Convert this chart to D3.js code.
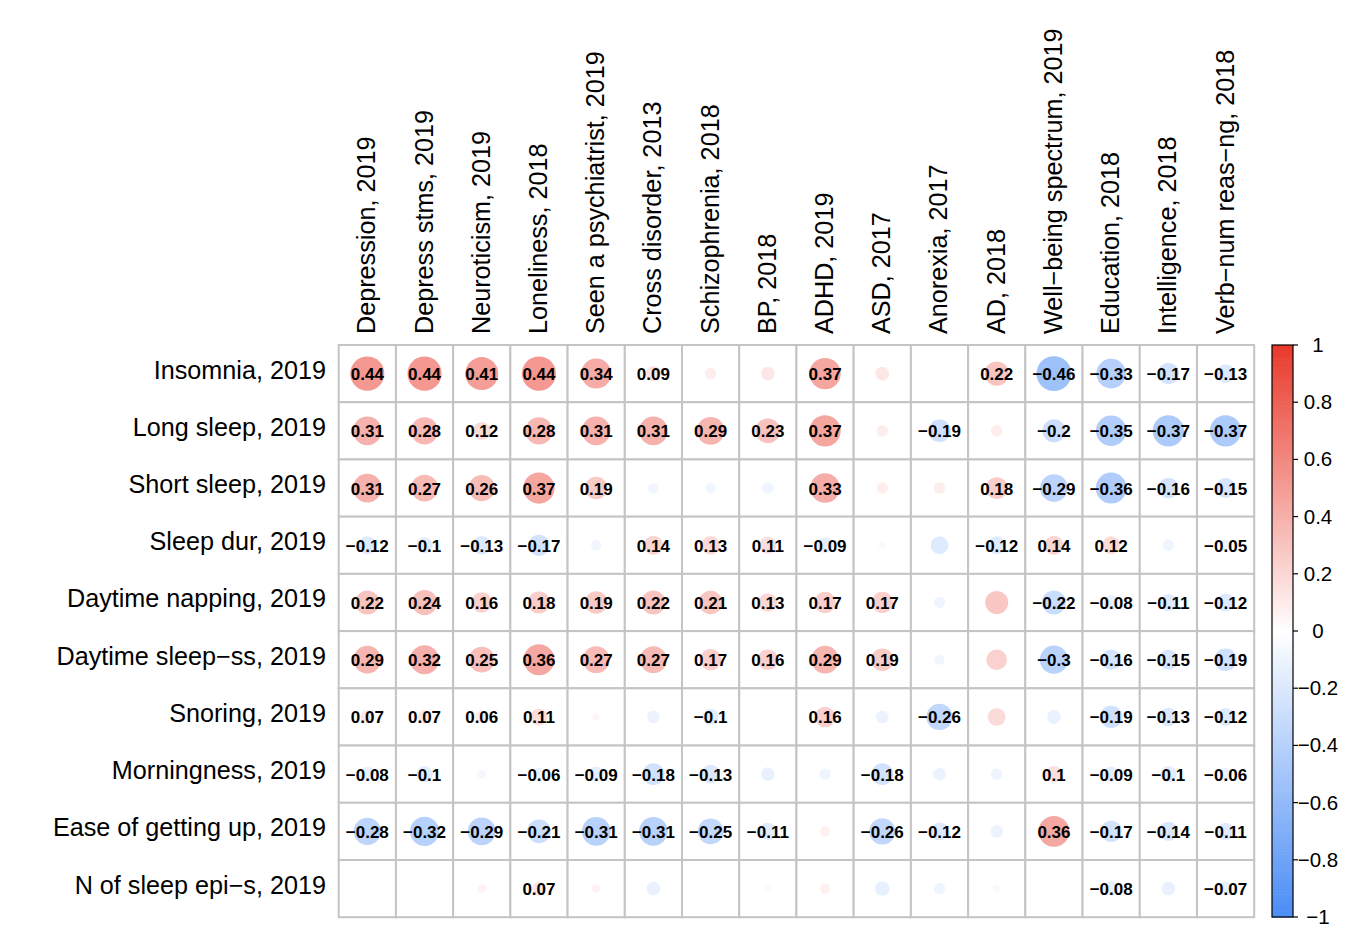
<!DOCTYPE html>
<html><head><meta charset="utf-8">
<script src="https://cdn.jsdelivr.net/npm/d3@7"></script>
<style>body{margin:0;background:#fff}svg{display:block}</style>
</head><body>
<svg id="chart" width="1364" height="950"></svg>
<script>
const cols = ["Depression, 2019","Depress stms, 2019","Neuroticism, 2019","Loneliness, 2018","Seen a psychiatrist, 2019","Cross disorder, 2013","Schizophrenia, 2018","BP, 2018","ADHD, 2019","ASD, 2017","Anorexia, 2017","AD, 2018","Well\u2212being spectrum, 2019","Education, 2018","Intelligence, 2018","Verb\u2212num reas\u2212ng, 2018"];
const rows = ["Insomnia, 2019","Long sleep, 2019","Short sleep, 2019","Sleep dur, 2019","Daytime napping, 2019","Daytime sleep\u2212ss, 2019","Snoring, 2019","Morningness, 2019","Ease of getting up, 2019","N of sleep epi\u2212s, 2019"];
const values = [
 [0.44,0.44,0.41,0.44,0.34,0.09,0.05,0.07,0.37,0.07,0,0.22,-0.46,-0.33,-0.17,-0.13],
 [0.31,0.28,0.12,0.28,0.31,0.31,0.29,0.23,0.37,0.05,-0.19,0.05,-0.2,-0.35,-0.37,-0.37],
 [0.31,0.27,0.26,0.37,0.19,-0.04,-0.04,-0.05,0.33,0.05,0.05,0.18,-0.29,-0.36,-0.16,-0.15],
 [-0.12,-0.1,-0.13,-0.17,-0.04,0.14,0.13,0.11,-0.09,-0.02,-0.12,-0.12,0.14,0.12,-0.05,-0.05],
 [0.22,0.24,0.16,0.18,0.19,0.22,0.21,0.13,0.17,0.17,-0.05,0.2,-0.22,-0.08,-0.11,-0.12],
 [0.29,0.32,0.25,0.36,0.27,0.27,0.17,0.16,0.29,0.19,-0.04,0.16,-0.3,-0.16,-0.15,-0.19],
 [0.07,0.07,0.06,0.11,0.02,-0.06,-0.1,0,0.16,-0.06,-0.26,0.12,-0.07,-0.19,-0.13,-0.12],
 [-0.08,-0.1,-0.03,-0.06,-0.09,-0.18,-0.13,-0.07,-0.05,-0.18,-0.06,-0.05,0.1,-0.09,-0.1,-0.06],
 [-0.28,-0.32,-0.29,-0.21,-0.31,-0.31,-0.25,-0.11,0.04,-0.26,-0.12,-0.06,0.36,-0.17,-0.14,-0.11],
 [0,0,0.03,0.07,0.03,-0.07,0,-0.02,0.04,-0.08,-0.05,-0.02,0,-0.08,-0.07,-0.07]
];
const shown = [
 [1,1,1,1,1,1,0,0,1,0,0,1,1,1,1,1],
 [1,1,1,1,1,1,1,1,1,0,1,0,1,1,1,1],
 [1,1,1,1,1,0,0,0,1,0,0,1,1,1,1,1],
 [1,1,1,1,0,1,1,1,1,0,0,1,1,1,0,1],
 [1,1,1,1,1,1,1,1,1,1,0,0,1,1,1,1],
 [1,1,1,1,1,1,1,1,1,1,0,0,1,1,1,1],
 [1,1,1,1,0,0,1,0,1,0,1,0,0,1,1,1],
 [1,1,0,1,1,1,1,0,0,1,0,0,1,1,1,1],
 [1,1,1,1,1,1,1,1,0,1,1,0,1,1,1,1],
 [0,0,0,1,0,0,0,0,0,0,0,0,0,1,0,1]
];
const legendTicks = [1,0.8,0.6,0.4,0.2,0,-0.2,-0.4,-0.6,-0.8,-1];

const svg = d3.select("#chart");
const font = "'Liberation Sans', Arial, Helvetica, sans-serif";
const x = d3.scaleBand().domain(d3.range(cols.length)).range([338.7, 1254.2]);
const y = d3.scaleBand().domain(d3.range(rows.length)).range([345, 917.2]);
const cw = x.bandwidth();
const ramp = d3.scaleLinear().domain([-1,0,1]).range(["#4A8CF5","#FFFFFF","#E9392B"]);
const color = v => ramp(Math.sign(v) * Math.pow(Math.abs(v), 0.8));
const fmt = v => String(v).replace("-", "\u2212");

const cells = [];
values.forEach((r,i)=>r.forEach((v,j)=>cells.push({i,j,v,s:shown[i][j]})));

const g = svg.append("g");
g.selectAll("rect.cell").data(cells).join("rect")
  .attr("x", d=>x(d.j)).attr("y", d=>y(d.i))
  .attr("width", cw).attr("height", y.bandwidth())
  .attr("fill","#fff").attr("stroke","#C4C4C4").attr("stroke-width",2);

g.selectAll("circle").data(cells.filter(d=>d.v!==0)).join("circle")
  .attr("cx", d=>x(d.j)+cw/2).attr("cy", d=>y(d.i)+y.bandwidth()/2)
  .attr("r", d=>0.45*Math.sqrt(Math.abs(d.v))*cw)
  .attr("fill", d=>color(d.v));

g.selectAll("text.val").data(cells.filter(d=>d.s)).join("text")
  .attr("class","val")
  .attr("x", d=>x(d.j)+cw/2).attr("y", d=>y(d.i)+y.bandwidth()/2+6.5)
  .attr("text-anchor","middle")
  .attr("font-family", font).attr("font-weight","bold").attr("font-size",17)
  .attr("fill","#000").text(d=>fmt(d.v));

svg.selectAll("text.row").data(rows).join("text")
  .attr("class","row")
  .attr("x", 326).attr("y", (d,i)=>y(i)+y.bandwidth()/2+5)
  .attr("text-anchor","end").attr("font-family",font).attr("font-size",25.2)
  .attr("fill","#000").text(d=>d);

svg.selectAll("text.col").data(cols).join("text")
  .attr("class","col")
  .attr("transform",(d,j)=>`translate(${x(j)+cw/2+8},334) rotate(-90)`)
  .attr("text-anchor","start").attr("font-family",font).attr("font-size",25.2)
  .attr("fill","#000").text(d=>d);

const ly = d3.scaleLinear().domain([1,-1]).range([345, 917]);
const lx0 = 1272, lw = 21;
const steps = d3.range(-1, 1, 0.01);
svg.append("g").selectAll("rect").data(steps).join("rect")
  .attr("x", lx0).attr("width", lw)
  .attr("y", d=>ly(d+0.01)).attr("height", ly(0)-ly(0.01)+0.6)
  .attr("fill", d=>ramp(d+0.005));
svg.append("rect").attr("x",lx0).attr("y",345).attr("width",lw).attr("height",572)
  .attr("fill","none").attr("stroke","#000").attr("stroke-width",1.2);
const lg = svg.append("g");
lg.selectAll("line").data(legendTicks).join("line")
  .attr("x1", lx0+lw).attr("x2", lx0+lw+5)
  .attr("y1", d=>ly(d)).attr("y2", d=>ly(d))
  .attr("stroke","#000").attr("stroke-width",1.2);
lg.selectAll("text").data(legendTicks).join("text")
  .attr("x", 1318).attr("y", d=>ly(d)+7)
  .attr("text-anchor","middle").attr("font-family",font).attr("font-size",20.5)
  .attr("fill","#000").text(d=>fmt(d));
</script>
</body></html>
